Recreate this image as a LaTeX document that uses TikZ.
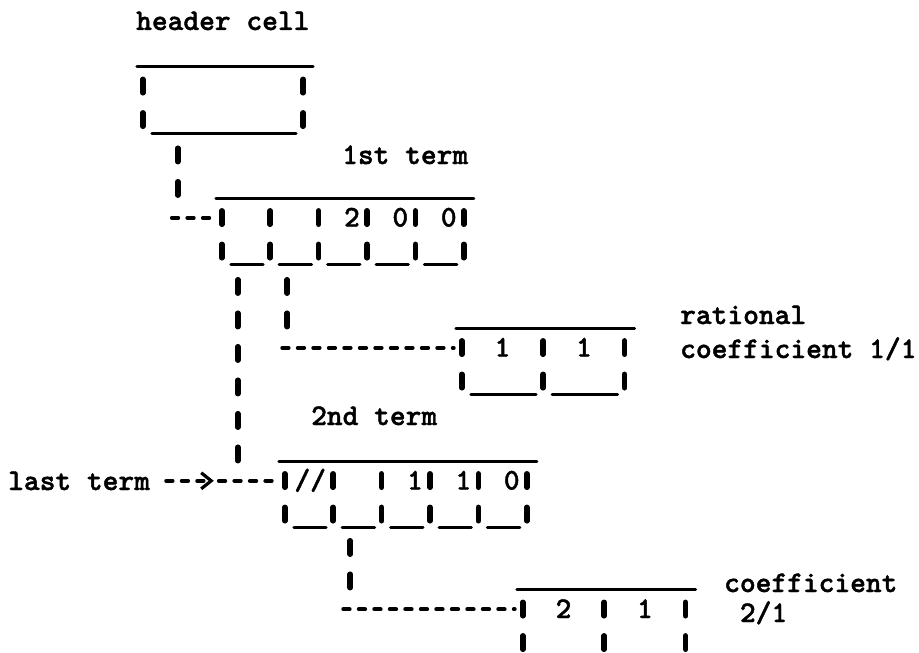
\documentclass[tikz,border=0pt]{standalone}
\usepackage{fontspec}
\usetikzlibrary{positioning,arrows.meta}

\newfontfamily\typeface{lmmonolt10-bold.otf}[FakeBold=1.4]
\newcommand{\typefont}{\fontsize{30}{34}\selectfont\typeface}

% frame of a record: rule on top, bars beside every field
\newcommand{\recordframe}[3]{%
  \draw[rule] ([xshift=-6pt]#1.north west) -- ([xshift=10pt]#2.north east);
  \foreach \f in {#3}
    \draw[bang] ([yshift=-12.5pt]\f.north west) -- ([yshift=2pt]\f.south west);
  \draw[bang] ([yshift=-12.5pt]#2.north east) -- ([yshift=2pt]#2.south east);
}

\tikzset{
  field/.style={minimum height=66pt, inner sep=0pt, text height=28pt, text depth=38pt, font=\typefont},
  tfield/.style={field, text width=34pt, inner xsep=7pt, align=right},
  cfield/.style={field, text width=81pt, align=center},
  rule/.style={line width=3pt, line cap=round},
  bang/.style={line width=5.5pt, line cap=round, dash pattern=on 13.5pt off 20pt},
  dashes/.style={line width=3.8pt, line cap=round, dash pattern=on 6.5pt off 9pt},
  lbl/.style={font=\typefont, inner sep=0pt, anchor=base west, align=left},
  barb/.style={-{Straight Barb[length=10pt, width=16pt, line width=3.2pt]}},
}

\begin{document}
\begin{tikzpicture}[x=1pt, y=-1pt]
  \useasboundingbox (0,0) rectangle (919,653);

  % labels
  \node[lbl] (hdrlbl) at (136,30) {header cell};
  \node[lbl] (t1lbl) at (342,164) {1st term};
  \node[lbl] (rc1lbl) at (680,358) {rational\\coefficient 1/1};
  \node[lbl] (t2lbl) at (311,425) {2nd term};
  \node[lbl] (lastlbl) at (8,490) {last term};
  \node[lbl] (rc2lbl) at (724,622) {coefficient\\[-4pt]~2/1};

  % header cell
  \node[field, minimum width=160pt] (hdr) at (223,100) {};

  % 1st term
  \node[tfield] (t1a) at (246,231.5) {};
  \node[tfield, right=0pt of t1a] (t1b) {};
  \node[tfield, right=0pt of t1b] (t1c) {2};
  \node[tfield, right=0pt of t1c] (t1d) {0};
  \node[tfield, right=0pt of t1d] (t1e) {0};

  % coefficient of the 1st term
  \node[cfield] (rc1a) at (502.5,361.5) {1};
  \node[cfield, right=0pt of rc1a] (rc1b) {1};

  % 2nd term
  \node[tfield] (t2a) at (309,494.5) {//};
  \node[tfield, right=0pt of t2a] (t2b) {};
  \node[tfield, right=0pt of t2b] (t2c) {1};
  \node[tfield, right=0pt of t2c] (t2d) {1};
  \node[tfield, right=0pt of t2d] (t2e) {0};

  % coefficient of the 2nd term
  \node[cfield] (rc2a) at (563.5,623) {2};
  \node[cfield, right=0pt of rc2a] (rc2b) {1};

  \recordframe{hdr}{hdr}{hdr}
  \recordframe{t1a}{t1e}{t1a,t1b,t1c,t1d,t1e}
  \recordframe{rc1a}{rc1b}{rc1a,rc1b}
  \recordframe{t2a}{t2e}{t2a,t2b,t2c,t2d,t2e}
  \recordframe{rc2a}{rc2b}{rc2a,rc2b}
  \foreach \f in {hdr,t1a,t1b,t1c,t1d,t1e,rc1a,rc1b,t2a,t2b,t2c,t2d,t2e}
    \draw[rule] ([xshift=9pt]\f.south west) -- ([xshift=-7pt]\f.south east);

  % first row of each record
  \coordinate (t1row) at ([yshift=-19.5pt]t1a.north west);
  \coordinate (rc1row) at ([yshift=-19.5pt]rc1a.north west);
  \coordinate (t2row) at ([yshift=-19.5pt]t2a.north west);
  \coordinate (rc2row) at ([yshift=-19.5pt]rc2a.north west);

  % header cell -> 1st term
  \coordinate (hdrp) at ([xshift=35pt,yshift=-15pt]hdr.south west);
  \draw[bang, shorten >=16pt] (hdrp) -- (hdrp |- t1row);
  \draw[dashes, shorten >=6pt] ([xshift=-6pt]hdrp |- t1row) -- (t1row);

  % 1st term -> 2nd term
  \coordinate (t1p) at ([xshift=16pt,yshift=-15pt]t1a.south west);
  \draw[bang, shorten >=14pt] (t1p) -- (t1p |- t2row);

  % last term pointer
  \coordinate (tip) at ([xshift=-71pt]t2row);
  \draw[dashes, barb] ([xshift=16pt]lastlbl.east |- t2row) -- (tip);
  \draw[dashes, shorten >=6pt] ([xshift=5pt]tip) -- (t2row);

  % 1st term -> its coefficient
  \coordinate (t1q) at ([xshift=17pt,yshift=-15pt]t1b.south west);
  \draw[bang, shorten >=16pt] (t1q) -- (t1q |- rc1row);
  \draw[dashes, shorten >=8pt] ([xshift=-5pt]t1q |- rc1row) -- (rc1row);

  % 2nd term -> its coefficient
  \coordinate (t2q) at ([xshift=17pt,yshift=-13pt]t2b.south west);
  \draw[bang, shorten >=16pt] (t2q) -- (t2q |- rc2row);
  \draw[dashes, shorten >=8pt] ([xshift=-7pt]t2q |- rc2row) -- (rc2row);
\end{tikzpicture}
\end{document}
